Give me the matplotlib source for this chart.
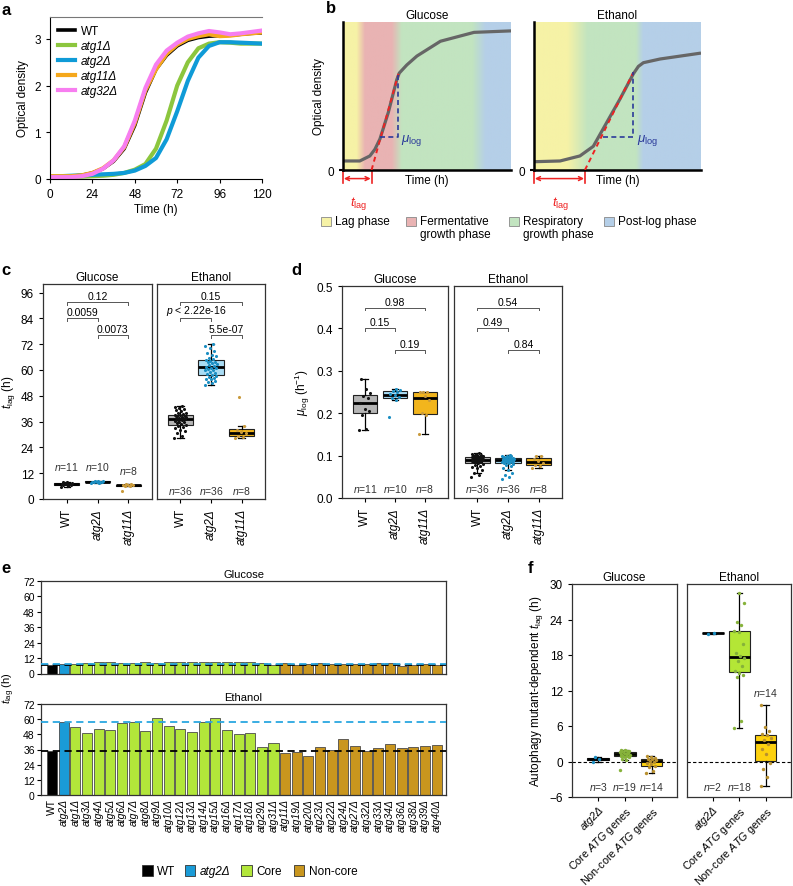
import numpy as np
import matplotlib
matplotlib.use("Agg")
import matplotlib.pyplot as plt
from matplotlib.patches import Rectangle

plt.rcParams["font.family"] = ["Liberation Sans", "DejaVu Sans"]
plt.rcParams["mathtext.fontset"] = "custom"
plt.rcParams["mathtext.rm"] = "Liberation Sans"
plt.rcParams["mathtext.it"] = "Liberation Sans:italic"
plt.rcParams["mathtext.bf"] = "Liberation Sans:bold"
plt.rcParams["font.size"] = 8
plt.rcParams["axes.linewidth"] = 0.8
plt.rcParams["xtick.major.size"] = 3
plt.rcParams["ytick.major.size"] = 3
plt.rcParams["xtick.major.width"] = 0.8
plt.rcParams["ytick.major.width"] = 0.8

# ---------------- data ----------------
# a: growth curves
time_h = [0, 6, 12, 18, 24, 30, 36, 42, 48, 54, 60, 66, 72, 78, 84, 90, 96, 102, 108, 114, 120]
od_wt = [0.05, 0.05, 0.06, 0.08, 0.13, 0.22, 0.38, 0.65, 1.15, 1.85, 2.35, 2.65, 2.85, 2.97, 3.03, 3.06, 3.07, 3.08, 3.10, 3.12, 3.13]
od_atg1 = [0.05, 0.05, 0.05, 0.05, 0.06, 0.07, 0.09, 0.13, 0.20, 0.32, 0.65, 1.25, 2.00, 2.50, 2.80, 2.90, 2.93, 2.92, 2.90, 2.90, 2.90]
od_atg2 = [0.05, 0.06, 0.07, 0.08, 0.09, 0.10, 0.11, 0.13, 0.18, 0.28, 0.45, 0.85, 1.45, 2.10, 2.60, 2.85, 2.93, 2.93, 2.92, 2.91, 2.90]
od_atg11 = [0.06, 0.06, 0.06, 0.08, 0.13, 0.23, 0.40, 0.68, 1.20, 1.90, 2.35, 2.68, 2.88, 3.00, 3.06, 3.10, 3.06, 3.07, 3.10, 3.12, 3.14]
od_atg32 = [0.04, 0.04, 0.04, 0.06, 0.11, 0.22, 0.40, 0.70, 1.25, 1.95, 2.45, 2.75, 2.92, 3.05, 3.12, 3.17, 3.14, 3.10, 3.12, 3.15, 3.18]
strains_a = ["WT", "atg1Δ", "atg2Δ", "atg11Δ", "atg32Δ"]

# b: schematic curves (normalised time / OD)
glc_x = [0, 0.10, 0.16, 0.19, 0.22, 0.245, 0.27, 0.295, 0.32, 0.335, 0.38, 0.44, 0.58, 0.78, 1.0]
glc_y = [0.061, 0.061, 0.095, 0.14, 0.21, 0.30, 0.39, 0.50, 0.61, 0.655, 0.71, 0.77, 0.87, 0.93, 0.94]
eth_x = [0, 0.156, 0.275, 0.355, 0.435, 0.515, 0.595, 0.625, 0.655, 0.755, 1.0]
eth_y = [0.056, 0.061, 0.095, 0.16, 0.32, 0.48, 0.65, 0.70, 0.725, 0.75, 0.79]
glc_tangent = ([0.17, 0.33], [0.0, 0.65])
eth_tangent = ([0.305, 0.595], [0.0, 0.66])
glc_mu = ([0.22, 0.325, 0.325], [0.223, 0.223, 0.65])
eth_mu = ([0.415, 0.595, 0.595], [0.223, 0.223, 0.66])
phases = ["Lag phase", "Fermentative\ngrowth phase", "Respiratory\ngrowth phase", "Post-log phase"]

# c: t_lag (h)
groups_cd = ["WT", "atg2Δ", "atg11Δ"]
tlag_glc = [
    [5.8, 6.2, 6.5, 6.7, 6.9, 7.0, 7.1, 7.3, 7.5, 7.8, 8.1],
    [7.4, 7.6, 7.8, 7.9, 8.0, 8.0, 8.1, 8.2, 8.3, 8.5],
    [3.5, 6.0, 6.2, 6.4, 6.5, 6.6, 6.8, 7.2],
]
tlag_eth = [
    [28.6, 29.5, 30.5, 31.5, 32.0, 33.0, 33.5, 33.8, 34.2, 34.8, 35.3, 35.7, 36.0, 36.3, 36.6, 36.9, 37.1, 37.3,
     37.5, 37.7, 37.9, 38.1, 38.3, 38.5, 38.7, 38.9, 39.1, 39.4, 39.8, 40.2, 40.7, 41.2, 41.8, 42.3, 42.8, 43.2],
    [53.0, 53.8, 54.5, 55.0, 55.6, 56.0, 56.4, 56.8, 57.3, 57.8, 58.3, 58.8, 59.3, 59.8, 60.2, 60.5, 60.8, 61.1,
     61.5, 61.9, 62.3, 62.7, 63.1, 63.5, 63.8, 64.1, 64.5, 65.0, 65.6, 66.3, 67.0, 68.0, 69.0, 70.2, 71.3, 72.2],
    [28.5, 29.0, 29.5, 30.5, 31.2, 32.3, 34.0, 47.4],
]
pvals_c_glc = ["0.12", "0.0059", "0.0073"]
pvals_c_eth = ["0.15", r"$\mathit{p}$ < 2.22e-16", "5.5e-07"]

# d: mu_log (1/h)
mu_glc = [
    [0.16, 0.162, 0.195, 0.205, 0.21, 0.225, 0.235, 0.24, 0.247, 0.257, 0.28],
    [0.19, 0.23, 0.235, 0.238, 0.242, 0.246, 0.249, 0.252, 0.255, 0.258],
    [0.15, 0.196, 0.2, 0.23, 0.24, 0.25, 0.25, 0.25],
]
mu_eth = [
    [0.05, 0.055, 0.06, 0.065, 0.07, 0.072, 0.075, 0.078, 0.08, 0.082, 0.084, 0.085, 0.086, 0.087, 0.088, 0.089,
     0.09, 0.09, 0.091, 0.092, 0.093, 0.093, 0.094, 0.095, 0.095, 0.096, 0.096, 0.097, 0.098, 0.099, 0.1, 0.101,
     0.102, 0.103, 0.104, 0.105],
    [0.045, 0.05, 0.055, 0.06, 0.065, 0.07, 0.075, 0.078, 0.08, 0.082, 0.083, 0.084, 0.085, 0.086, 0.087, 0.088,
     0.088, 0.089, 0.089, 0.09, 0.09, 0.091, 0.091, 0.092, 0.092, 0.093, 0.093, 0.094, 0.094, 0.095, 0.096, 0.097,
     0.098, 0.099, 0.1, 0.102],
    [0.07, 0.075, 0.078, 0.083, 0.087, 0.093, 0.098, 0.1],
]
pvals_d_glc = ["0.98", "0.15", "0.19"]
pvals_d_eth = ["0.54", "0.49", "0.84"]

# e: per-mutant t_lag
mutants = ["WT", "atg2Δ", "atg1Δ", "atg3Δ", "atg4Δ", "atg5Δ", "atg6Δ", "atg7Δ", "atg8Δ", "atg9Δ", "atg10Δ",
           "atg12Δ", "atg13Δ", "atg14Δ", "atg15Δ", "atg16Δ", "atg17Δ", "atg18Δ", "atg29Δ", "atg31Δ", "atg11Δ",
           "atg19Δ", "atg20Δ", "atg23Δ", "atg22Δ", "atg24Δ", "atg27Δ", "atg32Δ", "atg33Δ", "atg34Δ", "atg36Δ",
           "atg38Δ", "atg39Δ", "atg40Δ"]
mutant_class = ["WT", "atg2"] + ["Core"] * 18 + ["Non-core"] * 14
tlag_glc_mut = [7.0, 7.6, 7.5, 8.0, 8.8, 8.6, 8.5, 8.5, 9.0, 8.0, 9.0, 9.0, 8.7, 9.2, 9.2, 9.2, 9.2, 9.0, 7.8,
                7.0, 8.0, 6.8, 7.6, 7.8, 7.5, 7.6, 7.6, 7.7, 7.8, 7.8, 5.8, 6.5, 7.6, 6.5]
tlag_eth_mut = [34.5, 57.5, 54.1, 48.8, 52.2, 51.5, 57.0, 58.0, 50.9, 60.7, 54.4, 52.2, 50.1, 57.5, 61.2, 51.5,
                48.3, 48.8, 37.7, 41.2, 33.0, 34.3, 31.1, 38.3, 35.4, 44.1, 38.8, 34.6, 37.2, 40.1, 36.9, 38.3,
                38.8, 39.6]

# f: autophagy mutant-dependent t_lag
groups_f = ["atg2Δ", r"Core $\mathit{ATG}$ genes", r"Non-core $\mathit{ATG}$ genes"]
dep_glc = [
    [0.0, 0.4, 0.8],
    [-1.5, 0.3, 0.5, 0.7, 0.8, 0.9, 1.0, 1.0, 1.1, 1.2, 1.3, 1.4, 1.5, 1.6, 1.7, 1.8, 1.8, 1.9, 2.0],
    [-1.9, -1.6, -1.0, -0.8, -0.5, -0.2, 0.0, 0.1, 0.3, 0.4, 0.5, 0.6, 0.7, 0.9],
]
dep_eth = [
    [21.6, 21.8],
    [5.7, 6.9, 14.2, 14.6, 15.0, 15.3, 16.1, 17.0, 17.5, 17.8, 18.3, 19.9, 21.9, 22.0, 23.1, 23.6, 26.8, 28.4],
    [-4.1, -2.7, -1.3, -0.2, 1.2, 2.1, 3.0, 3.6, 4.0, 4.4, 4.6, 5.2, 5.9, 9.6],
]

# ---------------- style ----------------
col_a = ["black", "#8cc63e", "#0f9bd7", "#f5a81c", "#f77ef0"]
col_phase = ["#f6f2a6", "#e9b3b3", "#c2e4c0", "#b5cfe8"]
fill_cd = ["#b5b5b5", "#a9dcf4", "#f2b51d"]
dot_cd = ["#111111", "#1b8ec2", "#c99a3c"]
fill_f = ["#2aa6de", "#b4e636", "#fdd10f"]
dot_f = ["#1b8ec2", "#86b23a", "#b8902f"]
bar_cols = {"WT": "black", "atg2": "#1a9bd7", "Core": "#b2e63a", "Non-core": "#c9961e"}
frame = "#333333"

W, H = 793, 887
fig = plt.figure(figsize=(W / 100, H / 100), dpi=100)


def px_axes(x0, y0, x1, y1):
    return fig.add_axes([x0 / W, 1 - y1 / H, (x1 - x0) / W, (y1 - y0) / H])


def jitter(n, spread):
    return ((np.arange(n) * 0.6180339) % 1 - 0.5) * spread


def draw_boxes(ax, data, fills, dots, width=0.8, spread=0.45, dot_size=5):
    bp = ax.boxplot(data, positions=range(len(data)), widths=width, patch_artist=True, showfliers=False,
                    medianprops=dict(color="black", lw=2),
                    boxprops=dict(edgecolor="#222222", lw=0.8),
                    whiskerprops=dict(color="black", lw=0.9),
                    capprops=dict(color="black", lw=0.9), capwidths=0.2)
    for patch, c in zip(bp["boxes"], fills):
        patch.set_facecolor(c)
    for i, (vals, c) in enumerate(zip(data, dots)):
        ax.scatter(i + jitter(len(vals), spread), vals, s=dot_size, color=c, lw=0, zorder=3)


def bracket(ax, x1, x2, y, text, tick):
    ax.plot([x1, x1, x2, x2], [y - tick, y, y, y - tick], color="#555555", lw=0.7)
    ax.text((x1 + x2) / 2, y + tick * 0.4, text, ha="center", va="bottom", fontsize=7.5)


def frame_axes(ax):
    for s in ax.spines.values():
        s.set_color(frame)
        s.set_linewidth(0.9)


# overlay for letters and free legends (pixel coords)
ov = fig.add_axes([0, 0, 1, 1], zorder=10)
ov.set_xlim(0, W)
ov.set_ylim(H, 0)
ov.axis("off")
for letter, (lx, ly) in zip("abcdef", [(1, 3), (326, 1), (1, 263), (291, 263), (1, 561), (528, 561)]):
    ov.text(lx, ly, letter, fontsize=12, fontweight="bold", va="top", ha="left")

# ---------------- panel a ----------------
ax = px_axes(50, 18, 262, 180)
for od, lab, c in zip([od_wt, od_atg1, od_atg2, od_atg11, od_atg32], strains_a, col_a):
    ax.plot(time_h, od, color=c, lw=2.6 if lab == "WT" else 3, label=lab, solid_joinstyle="round")
ax.set_xlim(0, 120)
ax.set_ylim(0, 3.47)
ax.set_xticks([0, 24, 48, 72, 96, 120])
ax.set_yticks([0, 1, 2, 3])
ax.tick_params(labelsize=8.5)
ax.set_xlabel("Time (h)", fontsize=8.5, labelpad=2)
ax.set_ylabel("Optical density", fontsize=8.5, labelpad=4)
ax.spines["right"].set_visible(False)
ax.spines["top"].set_color("#777777")
leg = ax.legend(loc="upper left", frameon=False, fontsize=8.5, handlelength=1.4, handletextpad=0.5,
                labelspacing=0.25, borderaxespad=0.3)
for t in leg.get_texts()[1:]:
    t.set_fontstyle("italic")

# ---------------- panel b ----------------


def phase_background(ax, stops):
    xs = np.linspace(0, 1, 400)
    pos = [s[0] for s in stops]
    rgb = np.array([matplotlib.colors.to_rgb(s[1]) for s in stops])
    img = np.stack([np.interp(xs, pos, rgb[:, k]) for k in range(3)], axis=-1)[None, :, :]
    ax.imshow(img, extent=[0, 1, 0, 1], aspect="auto", zorder=0)


Y, P, G, B = col_phase
b_specs = [
    ("Glucose", 343, 511, glc_x, glc_y, glc_tangent, glc_mu,
     [(0, Y), (0.08, Y), (0.13, P), (0.29, P), (0.35, G), (0.77, G), (0.85, B), (1, B)]),
    ("Ethanol", 534, 701, eth_x, eth_y, eth_tangent, eth_mu,
     [(0, Y), (0.2, Y), (0.32, G), (0.61, G), (0.655, B), (1, B)]),
]
for k, (title, x0, x1, cx, cy, tang, mu, stops) in enumerate(b_specs):
    ax = px_axes(x0, 23, x1, 171)
    phase_background(ax, stops)
    ax.plot(cx, cy, color="#666666", lw=2.3, zorder=2, solid_capstyle="butt")
    ax.plot(tang[0], tang[1], color="#ee2222", lw=1.4, ls=(0, (2.5, 2)), zorder=3)
    ax.plot(mu[0], mu[1], color="#2b3a9a", lw=1.2, ls=(0, (3, 2)), zorder=3)
    ax.text(mu[0][2] + 0.02, mu[1][0] - 0.02, r"$\mu_{\rm log}$", color="#2b3a9a", fontsize=9.5, va="center")
    tl = tang[0][0]
    for xv in [0, tl]:
        ax.plot([xv, xv], [0, -0.09], color="#ee2222", lw=1.2, clip_on=False)
    ax.annotate("", xy=(0.005, -0.058), xytext=(tl - 0.005, -0.058), xycoords="data",
                arrowprops=dict(arrowstyle="<->", color="#ee2222", lw=1.1, shrinkA=0, shrinkB=0,
                                mutation_scale=7), annotation_clip=False)
    ax.text(tl / 2 + 0.01, -0.16, r"$t_{\rm lag}$", color="#ee2222", fontsize=9.5, ha="center", va="top")
    ax.set_xlim(0, 1)
    ax.set_ylim(0, 1)
    ax.set_xticks([])
    ax.set_yticks([0])
    ax.tick_params(axis="y", length=3, width=1.5, labelsize=8.5)
    for s in ["top", "right"]:
        ax.spines[s].set_visible(False)
    for s in ["left", "bottom"]:
        ax.spines[s].set_linewidth(1.8)
    ax.set_xlabel("Time (h)", fontsize=8.5, labelpad=3)
    if k == 0:
        ax.set_ylabel("Optical density", fontsize=8.5, labelpad=2)
    ax.set_title(title, fontsize=8.5, pad=3)

for (sx, label), c in zip([(321, phases[0]), (406, phases[1]), (509, phases[2]), (604, phases[3])], col_phase):
    ov.add_patch(Rectangle((sx, 217.5), 9.5, 9.5, facecolor=c, edgecolor="#888888", lw=0.6))
    ov.text(sx + 14, 216, label, fontsize=8.5, va="top", ha="left", linespacing=1.15)

# ---------------- panels c and d ----------------


def cd_panel(x0, x1, y0, y1, data, pvals, ylim, yticks, nlabels, ny, bkt, tick, title, first, ylabel=None):
    ax = px_axes(x0, y0, x1, y1)
    draw_boxes(ax, data, fill_cd, dot_cd, width=0.82, spread=0.4)
    ax.set_xlim(-0.77, 2.77)
    ax.set_ylim(*ylim)
    ax.set_xticks(range(3))
    ax.set_xticklabels(groups_cd, rotation=90, fontsize=8.5)
    for t in ax.get_xticklabels()[1:]:
        t.set_fontstyle("italic")
    if first:
        ax.set_yticks(yticks)
        ax.tick_params(axis="y", labelsize=8.5)
        ax.set_ylabel(ylabel, fontsize=8.5, labelpad=3)
    else:
        ax.set_yticks([])
    bracket(ax, 0, 2, bkt[0], pvals[0], tick)
    bracket(ax, 0, 1, bkt[1], pvals[1], tick)
    bracket(ax, 1, 2, bkt[2], pvals[2], tick)
    for i, (lab, yy) in enumerate(zip(nlabels, ny)):
        ax.text(i, yy, r"$\mathit{n}$=" + lab, ha="center", va="center", fontsize=7.5, color="#333333")
    ax.set_title(title, fontsize=8.5, pad=3)
    frame_axes(ax)
    return ax


cd_panel(43, 152, 285, 500, tlag_glc, pvals_c_glc, (0, 100), range(0, 97, 12), ["11", "10", "8"],
         [15.5, 15.5, 13.5], [91.7, 84.3, 76.2], 1.3, "Glucose", True, r"$t_{\rm lag}$ (h)")
cd_panel(157, 265, 285, 500, tlag_eth, pvals_c_eth, (0, 100), range(0, 97, 12), ["36", "36", "8"],
         [4, 4, 4], [91.7, 84.3, 76.2], 1.3, "Ethanol", False)
cd_panel(342, 448, 287, 499, mu_glc, pvals_d_glc, (0, 0.5), np.arange(0, 0.51, 0.1), ["11", "10", "8"],
         [0.024, 0.024, 0.024], [0.449, 0.40, 0.348], 0.0065, "Glucose", True,
         r"$\mu_{\rm log}$ (h$^{-1}$)")
cd_panel(454, 562, 287, 499, mu_eth, pvals_d_eth, (0, 0.5), np.arange(0, 0.51, 0.1), ["36", "36", "8"],
         [0.024, 0.024, 0.024], [0.449, 0.40, 0.348], 0.0065, "Ethanol", False)

# ---------------- panel e ----------------
xpos = np.arange(len(mutants))
colors_e = [bar_cols[c] for c in mutant_class]
for k, (vals, title, y0, y1) in enumerate([(tlag_glc_mut, "Glucose", 582, 674.5),
                                           (tlag_eth_mut, "Ethanol", 705, 796)]):
    ax = px_axes(41, y0, 446, y1)
    ax.bar(xpos, vals, width=0.86, color=colors_e, edgecolor="#4a4a4a", lw=0.6, zorder=2)
    ax.axhline(vals[0], color="black", lw=1.3, ls=(0, (4, 2.5)), zorder=3)
    ax.axhline(vals[1], color="#2aa7e0", lw=1.3, ls=(0, (4, 2.5)), zorder=3)
    ax.set_xlim(-0.95, len(mutants) - 0.2)
    ax.set_ylim(0, 72)
    ax.set_yticks(range(0, 73, 12))
    ax.tick_params(axis="y", labelsize=7.5, length=3, pad=1.5)
    if k == 0:
        ax.set_xticks([])
    else:
        ax.set_xticks(xpos)
        ax.set_xticklabels(mutants, rotation=90, fontsize=7.5)
        ax.tick_params(axis="x", length=0, pad=2)
        for t in ax.get_xticklabels()[1:]:
            t.set_fontstyle("italic")
    ax.set_title(title, fontsize=8, pad=3)
    frame_axes(ax)
fig.text(9 / W, 1 - 688 / H, r"$t_{\rm lag}$ (h)", rotation=90, ha="center", va="center", fontsize=8)

for (sx, label, key) in [(142, "WT", "WT"), (184.5, "atg2Δ", "atg2"), (241, "Core", "Core"),
                         (293.5, "Non-core", "Non-core")]:
    ov.add_patch(Rectangle((sx, 866), 10.5, 11, facecolor=bar_cols[key], edgecolor="#333333", lw=0.6))
    ov.text(sx + 15, 872, label, fontsize=8.5, va="center", ha="left",
            fontstyle="italic" if key == "atg2" else "normal")

# ---------------- panel f ----------------
for k, (data, title, x0, x1, nlab, ny) in enumerate([
        (dep_glc, "Glucose", 572, 677, ["3", "19", "14"], [-4.2, -4.2, -4.2]),
        (dep_eth, "Ethanol", 687, 791, ["2", "18", "14"], [-4.2, -4.2, 11.7])]):
    ax = px_axes(x0, 585, x1, 798)
    ax.axhline(0, color="black", lw=0.8, ls=(0, (3, 2)), zorder=1)
    draw_boxes(ax, data, fill_f, dot_f, width=0.8, spread=0.4, dot_size=6)
    ax.set_xlim(-0.98, 2.95)
    ax.set_ylim(-6, 30)
    ax.set_xticks(range(3))
    ax.set_xticklabels(groups_f, rotation=45, ha="right", rotation_mode="anchor", fontsize=7.8)
    ax.tick_params(axis="x", pad=2)
    ax.get_xticklabels()[0].set_fontstyle("italic")
    if k == 0:
        ax.set_yticks(range(-6, 31, 6))
        ax.tick_params(axis="y", labelsize=8.5)
        ax.set_ylabel(r"Autophagy mutant-dependent $t_{\rm lag}$ (h)", fontsize=8.5, labelpad=3)
    else:
        ax.set_yticks([])
    for i, (lab, yy) in enumerate(zip(nlab, ny)):
        ax.text(i, yy, r"$\mathit{n}$=" + lab, ha="center", va="center", fontsize=7.5, color="#333333")
    ax.set_title(title, fontsize=8.5, pad=3)
    frame_axes(ax)

fig.savefig("out.png", dpi=100)
